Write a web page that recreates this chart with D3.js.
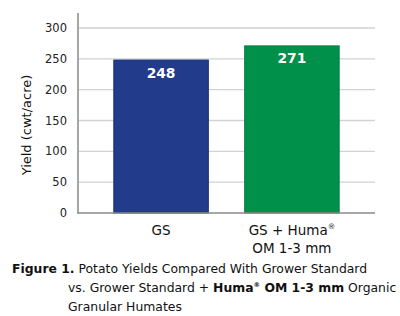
<!DOCTYPE html>
<html><head><meta charset="utf-8">
<script src="https://cdn.jsdelivr.net/npm/d3@7"></script>
<style>body{margin:0;background:#fff;}svg{display:block;}</style>
</head><body>
<script>
const categories = ["GS", "GS + Huma®|OM 1-3 mm"];
const values = [248, 271];
const colors = ["#233b8b", "#00904a"];
const strokes = ["#1a2d78", "#00843f"];
const yTicks = [0, 50, 100, 150, 200, 250, 300];

const W = 400, H = 316;
const font = "'DejaVu Sans', Verdana, sans-serif";
const svg = d3.select("body").append("svg").attr("width", W).attr("height", H);

const x = d3.scaleBand().domain(categories).range([78, 375]).paddingInner(0.27).paddingOuter(0.27);
const y = d3.scaleLinear().domain([0, 300]).range([213, 28]);

// gridlines
svg.append("g").selectAll("line").data(yTicks.filter(d => d > 0)).join("line")
  .attr("x1", 78).attr("x2", 375)
  .attr("y1", d => y(d)).attr("y2", d => y(d))
  .attr("stroke", "#d2d2d2").attr("stroke-width", 1.3);

// y tick labels
svg.append("g").selectAll("text").data(yTicks).join("text")
  .attr("x", 67).attr("y", d => y(d)).attr("dy", "0.36em")
  .attr("text-anchor", "end").attr("font-family", font).attr("font-size", 11.5)
  .attr("fill", "#222").text(d => d);

// bars
svg.append("g").selectAll("rect").data(values).join("rect")
  .attr("x", (d, i) => x(categories[i]) + 0.5).attr("width", x.bandwidth() - 1)
  .attr("y", d => y(d)).attr("height", d => y(0) - y(d))
  .attr("fill", (d, i) => colors[i]).attr("stroke", (d, i) => strokes[i]).attr("stroke-width", 1);

// value labels
svg.append("g").selectAll("text").data(values).join("text")
  .attr("x", (d, i) => x(categories[i]) + x.bandwidth() / 2)
  .attr("y", d => y(d) + 17.5).attr("text-anchor", "middle")
  .attr("font-family", font).attr("font-weight", "bold").attr("font-size", 13.8)
  .attr("fill", "#fff").text(d => d);

// axes lines
svg.append("line").attr("x1", 78).attr("x2", 78).attr("y1", 13).attr("y2", 213.5)
  .attr("stroke", "#8a8a8a").attr("stroke-width", 1.5);
svg.append("line").attr("x1", 77.3).attr("x2", 375).attr("y1", 213).attr("y2", 213)
  .attr("stroke", "#8a8a8a").attr("stroke-width", 1.5);

// x labels
categories.forEach((c, i) => {
  const lines = c.split("|");
  const t = svg.append("text").attr("text-anchor", "middle")
    .attr("font-family", font).attr("font-size", 13.5).attr("fill", "#111");
  lines.forEach((ln, j) => {
    const ts = t.append("tspan").attr("x", x(c) + x.bandwidth() / 2).attr("y", 235 + j * 18);
    if (ln.includes("®")) {
      const parts = ln.split("®");
      ts.text(parts[0]);
      t.append("tspan").attr("font-size", 7.5).attr("dy", -6).text("®");
    } else ts.text(ln);
  });
});

// y title
svg.append("text").attr("transform", "translate(30.5,125) rotate(-90)")
  .attr("text-anchor", "middle").attr("font-family", font).attr("font-size", 13)
  .attr("fill", "#111").text("Yield (cwt/acre)");

// caption
const cap = svg.append("g").attr("font-family", font).attr("font-size", 12.4).attr("fill", "#111");
const l1 = cap.append("text").attr("x", 12).attr("y", 273);
l1.append("tspan").attr("font-weight", "bold").text("Figure 1.");
l1.append("tspan").text(" Potato Yields Compared With Grower Standard");
const l2 = cap.append("text").attr("x", 68).attr("y", 292);
l2.append("tspan").text("vs. Grower Standard + ");
l2.append("tspan").attr("font-weight", "bold").text("Huma");
l2.append("tspan").attr("font-weight", "bold").attr("font-size", 6.5).attr("dy", -5).text("®");
l2.append("tspan").attr("font-weight", "bold").attr("dy", 5).text(" OM 1-3 mm");
l2.append("tspan").text(" Organic");
cap.append("text").attr("x", 68).attr("y", 311).text("Granular Humates");
</script>
</body></html>
